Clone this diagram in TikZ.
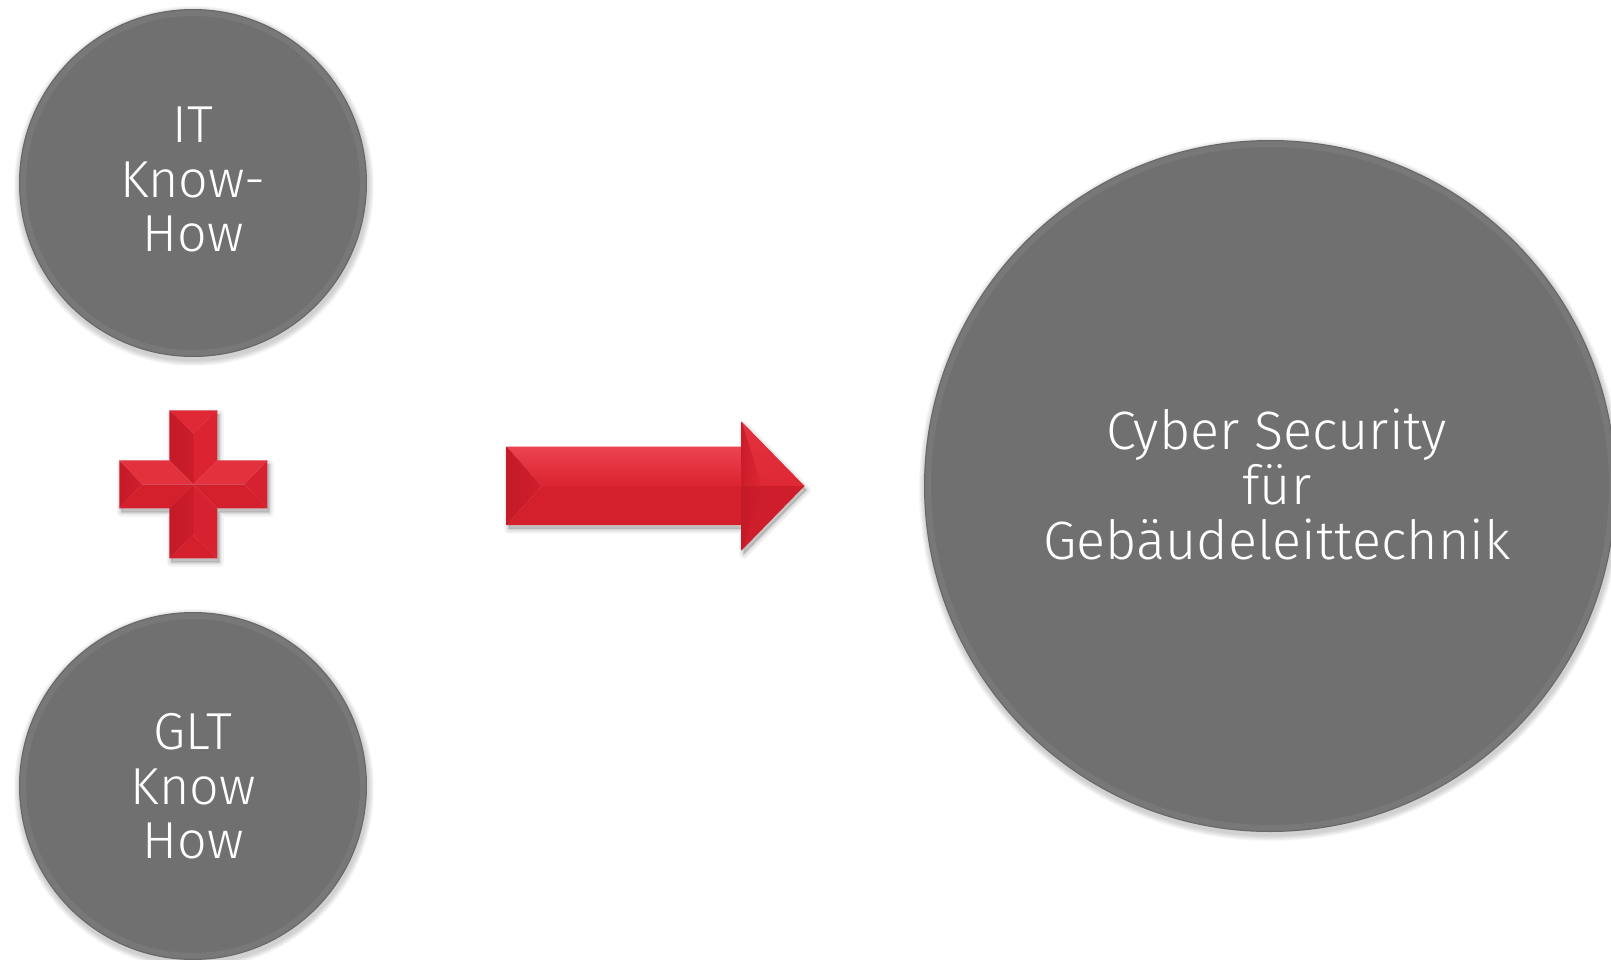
\documentclass[tikz,border=0pt]{standalone}
\usepackage{fontspec}
\setmainfont{Fira Sans Light}
\definecolor{discgray}{HTML}{707070}
\definecolor{rA}{HTML}{DE2836}
\definecolor{rB}{HTML}{CC1C2A}
\definecolor{rC}{HTML}{DC2331}
\definecolor{rD}{HTML}{D11E2C}
\definecolor{rE}{HTML}{E3323E}
\definecolor{rF}{HTML}{D41F2D}
\definecolor{rG}{HTML}{D62130}
\definecolor{rH}{HTML}{EC4350}
\definecolor{rI}{HTML}{C41A28}
\definecolor{rJ}{HTML}{CE1D2B}
\tikzset{
  disc/.style={circle, fill=discgray, inner sep=0pt},
  lbl/.style={text=white, align=center, inner sep=0pt,
    font=\fontsize{52}{54.5}\selectfont},
  softshadow/.style={black, opacity=0.045, line join=round,
    transform canvas={xshift=2pt,yshift=-4pt}}
}
\begin{document}
\begin{tikzpicture}[x=1pt,y=-1pt]
\useasboundingbox (0,0) rectangle (1611,960);
\fill[white] (0,0) rectangle (1611,960);

% circle shadows
\foreach \x/\y/\r in {193/183/174, 193/786/174, 1270/486/346}{
  \foreach \i in {1,...,6}{
    \fill[black, opacity=0.03] (\x+1,\y+3) circle ({\r+\i});
  }
}

% discs
\node[disc, minimum size=348pt] (itc) at (193,183) {};
\node[disc, minimum size=348pt] (gltc) at (193,786) {};
\node[disc, minimum size=692pt] (csc) at (1270,486) {};
\foreach \n/\r in {itc/174, gltc/174, csc/346}{
  \draw[white, opacity=0.06, line width=6pt] (\n.center) circle ({\r-4});
  \draw[black, opacity=0.08, line width=1.2pt] (\n.center) circle ({\r-0.6});
}

% labels
\node[lbl] (itt) at (193,179.5) {IT\\Know-\\How};
\node[lbl] (gltt) at (193,786.5) {GLT\\Know\\How};
\node[lbl, font=\fontsize{54}{55}\selectfont] (cst) at (1277,484) {Cyber Security\\für\\Gebäudeleittechnik};

% plus sign
\coordinate (T1) at (169.3,410.3);
\coordinate (T2) at (217.3,410.3);
\coordinate (Tp) at (193.3,433.3);
\coordinate (Jtl) at (169.3,460.3);
\coordinate (Jtr) at (217.3,460.3);
\coordinate (C) at (193.3,484.3);
\coordinate (B1) at (169.3,558.3);
\coordinate (B2) at (217.3,558.3);
\coordinate (Bp) at (193.3,535.3);
\coordinate (Jbl) at (169.3,508.3);
\coordinate (Jbr) at (217.3,508.3);
\coordinate (L1) at (119.3,460.3);
\coordinate (L2) at (119.3,508.3);
\coordinate (Lp) at (142.3,484.3);
\coordinate (R1) at (267.3,460.3);
\coordinate (R2) at (267.3,508.3);
\coordinate (Rp) at (244.3,484.3);

\foreach \lw in {9,6,3,0.5}{
  \filldraw[softshadow, line width=\lw pt]
    (T1) -- (T2) -- (Jtr) -- (R1) -- (R2) -- (Jbr) -- (B2) -- (B1) -- (Jbl) -- (L2) -- (L1) -- (Jtl) -- cycle;
}
\fill[rA] (T1) -- (T2) -- (Tp) -- cycle;
\shade[left color=rI, right color=rB] (T1) -- (Tp) -- (C) -- (Jtl) -- cycle;
\fill[rC] (T2) -- (Tp) -- (C) -- (Jtr) -- cycle;
\shade[left color=rI, right color=rD] (L1) -- (Lp) -- (L2) -- cycle;
\fill[rE] (L1) -- (Lp) -- (C) -- (Jtl) -- cycle;
\fill[rF] (L2) -- (Lp) -- (C) -- (Jbl) -- cycle;
\fill[rG] (R1) -- (Rp) -- (R2) -- cycle;
\fill[rE] (R1) -- (Rp) -- (C) -- (Jtr) -- cycle;
\fill[rF] (R2) -- (Rp) -- (C) -- (Jbr) -- cycle;
\fill[rF] (B1) -- (B2) -- (Bp) -- cycle;
\shade[left color=rI, right color=rB] (B1) -- (Bp) -- (C) -- (Jbl) -- cycle;
\fill[rG] (B2) -- (Bp) -- (C) -- (Jbr) -- cycle;

% arrow
\coordinate (A1) at (506.7,446.7);
\coordinate (A2) at (741.7,446.7);
\coordinate (H1) at (741.7,421.7);
\coordinate (Tip) at (804.5,486);
\coordinate (H2) at (741.7,550.3);
\coordinate (A3) at (741.7,525);
\coordinate (A4) at (506.7,525);
\coordinate (Ap) at (541.7,486);
\coordinate (M) at (741.7,486);
\coordinate (Hi) at (762,486);

\foreach \lw in {9,6,3,0.5}{
  \filldraw[softshadow, line width=\lw pt]
    (A1) -- (A2) -- (H1) -- (Tip) -- (H2) -- (A3) -- (A4) -- cycle;
}
\shade[top color=rH, bottom color=rC] (A1) -- (A2) -- (M) -- (Ap) -- cycle;
\fill[rF] (A4) -- (A3) -- (M) -- (Ap) -- cycle;
\shade[left color=rI, right color=rD] (A1) -- (Ap) -- (A4) -- cycle;
\shade[top color=rE, bottom color=rA] (A2) -- (H1) -- (Tip) -- (M) -- cycle;
\fill[rJ] (A3) -- (H2) -- (Tip) -- (M) -- cycle;
\shade[left color=rB, right color=rA] (H1) -- (Hi) -- (M) -- (A2) -- cycle;
\shade[left color=rI, right color=rJ] (H2) -- (Hi) -- (M) -- (A3) -- cycle;
\end{tikzpicture}
\end{document}
